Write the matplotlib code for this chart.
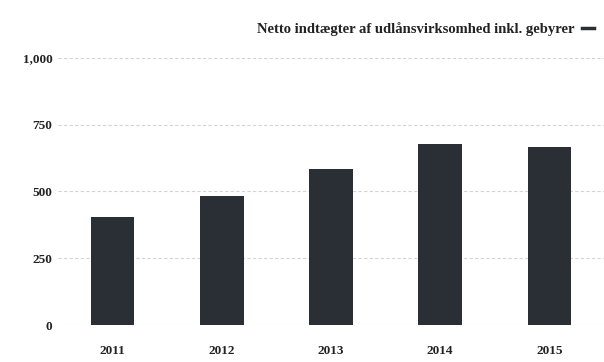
import matplotlib
matplotlib.use("Agg")
import matplotlib.pyplot as plt
from matplotlib.lines import Line2D

years = ["2011", "2012", "2013", "2014", "2015"]
netto_indtaegter = [403, 485, 586, 679, 668]
y_ticks = [0, 250, 500, 750, 1000]
y_tick_labels = ["0", "250", "500", "750", "1,000"]
series_name = "Netto indtægter af udlånsvirksomhed inkl. gebyrer"

bar_color = "#2a2e35"
plt.rcParams["font.family"] = ["Liberation Serif", "DejaVu Serif"]

fig = plt.figure(figsize=(6.04, 3.62), dpi=100)
ax = fig.add_axes([0.096, 0.102, 0.904, 0.738])

x = range(len(years))
ax.bar(x, netto_indtaegter, width=0.4, color=bar_color, zorder=3)

ax.set_xlim(-0.5, len(years) - 0.5)
ax.set_ylim(0, 1000)
ax.set_yticks(y_ticks)
ax.set_yticklabels(y_tick_labels)
ax.set_xticks(list(x))
ax.set_xticklabels(years)

for lbl in ax.get_xticklabels() + ax.get_yticklabels():
    lbl.set_fontweight("bold")
    lbl.set_fontsize(9.5)
    lbl.set_color("#222222")

ax.tick_params(axis="both", length=0)
ax.tick_params(axis="x", pad=14)
ax.tick_params(axis="y", pad=4)
ax.grid(axis="y", color="#d4d4d4", linestyle=(0, (3, 2)), linewidth=0.8, zorder=0)
for side in ax.spines.values():
    side.set_visible(False)

# legend line at the top right
handle = Line2D([], [], color=bar_color, linewidth=2.5)
leg = fig.legend([handle], [series_name], loc="upper right",
                 bbox_to_anchor=(1.005, 0.975), frameon=False,
                 markerfirst=False, handlelength=0.8, handletextpad=0.5,
                 prop={"weight": "bold", "size": 10.5})
for t in leg.get_texts():
    t.set_color("#222222")

fig.savefig("out.png", dpi=100)
